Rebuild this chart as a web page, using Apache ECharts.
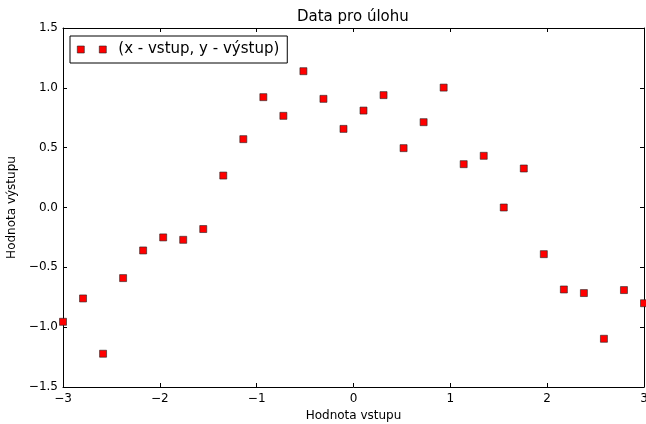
<!DOCTYPE html>
<html>
<head>
<meta charset="utf-8">
<script src="https://cdn.jsdelivr.net/npm/echarts@6/dist/echarts.min.js"></script>
<style>html,body{margin:0;padding:0;background:#fff;}#c{width:646px;height:424px;}</style>
</head>
<body>
<div id="c"></div>
<script>
const xValues = [-3, -2.7931, -2.5862, -2.3793, -2.1724, -1.9655, -1.7586, -1.5517, -1.3448, -1.1379,
  -0.9310, -0.7241, -0.5172, -0.3103, -0.1034, 0.1034, 0.3103, 0.5172, 0.7241, 0.9310,
  1.1379, 1.3448, 1.5517, 1.7586, 1.9655, 2.1724, 2.3793, 2.5862, 2.7931, 3];
const yValues = [-0.955, -0.76, -1.222, -0.59, -0.359, -0.25, -0.27, -0.18, 0.267, 0.571,
  0.922, 0.766, 1.139, 0.908, 0.657, 0.81, 0.939, 0.496, 0.713, 1.002,
  0.362, 0.432, 0.0, 0.326, -0.39, -0.685, -0.715, -1.097, -0.69, -0.80];
const titleText = 'Data pro úlohu';
const seriesName = '(x - vstup, y - výstup)';
const xName = 'Hodnota vstupu';
const yName = 'Hodnota výstupu';

const FONT = 'DejaVu Sans';
const fmtMinus = s => String(s).replace('-', '\u2212');

const chart = echarts.init(document.getElementById('c'), null, {renderer: 'canvas'});
const data = xValues.map((x, i) => [x, yValues[i]]);

const markerStyle = {color: '#ff0000', borderColor: '#222', borderWidth: 0.6, opacity: 1};

const baseAxis = {
  axisLine: {show: true, onZero: false, lineStyle: {color: '#000', width: 1}},
  axisTick: {show: true, inside: true, length: 4, lineStyle: {color: '#000', width: 1}},
  splitLine: {show: false}
};

chart.setOption({
  animation: false,
  backgroundColor: '#fff',
  title: {
    text: titleText, left: 297, top: 10, padding: 0,
    textStyle: {fontFamily: FONT, fontSize: 15, fontWeight: 'normal', color: '#000'}
  },
  grid: {left: 63, right: 2, top: 28, bottom: 37, containLabel: false, outerBoundsMode: 'none'},
  legend: {
    left: 70, top: 36,
    padding: [6, 8, 6, 7],
    backgroundColor: '#fff',
    borderColor: '#000', borderWidth: 1, borderRadius: 0,
    itemWidth: 29, itemHeight: 7,
    icon: 'path://M0,0h7v7h-7z M22,0h7v7h-7z',
    itemStyle: Object.assign({}, markerStyle),
    textStyle: {fontFamily: FONT, fontSize: 15, color: '#000', padding: [0, 0, 0, 7]},
    data: [seriesName]
  },
  xAxis: [
    Object.assign({}, baseAxis, {
      type: 'value', min: -3, max: 3, interval: 1, position: 'bottom',
      name: xName, nameLocation: 'middle', nameGap: 23,
      nameTextStyle: {fontFamily: FONT, fontSize: 12, color: '#000'},
      axisLabel: {fontFamily: FONT, fontSize: 12, color: '#000', margin: 6, formatter: v => fmtMinus(v)}
    }),
    Object.assign({}, baseAxis, {
      type: 'value', min: -3, max: 3, interval: 1, position: 'top',
      axisLabel: {show: false}
    })
  ],
  yAxis: [
    Object.assign({}, baseAxis, {
      type: 'value', min: -1.5, max: 1.5, interval: 0.5, position: 'left',
      name: yName, nameLocation: 'middle', nameGap: 39,
      nameTextStyle: {fontFamily: FONT, fontSize: 12, color: '#000'},
      axisLabel: {fontFamily: FONT, fontSize: 12, color: '#000', margin: 5, formatter: v => fmtMinus(v.toFixed(1))}
    }),
    Object.assign({}, baseAxis, {
      type: 'value', min: -1.5, max: 1.5, interval: 0.5, position: 'right',
      axisLabel: {show: false}
    })
  ],
  series: [{
    name: seriesName,
    type: 'scatter',
    xAxisIndex: 0, yAxisIndex: 0,
    symbol: 'rect', symbolSize: 7,
    itemStyle: markerStyle,
    emphasis: {disabled: true},
    data: data
  }]
});
</script>
</body>
</html>
